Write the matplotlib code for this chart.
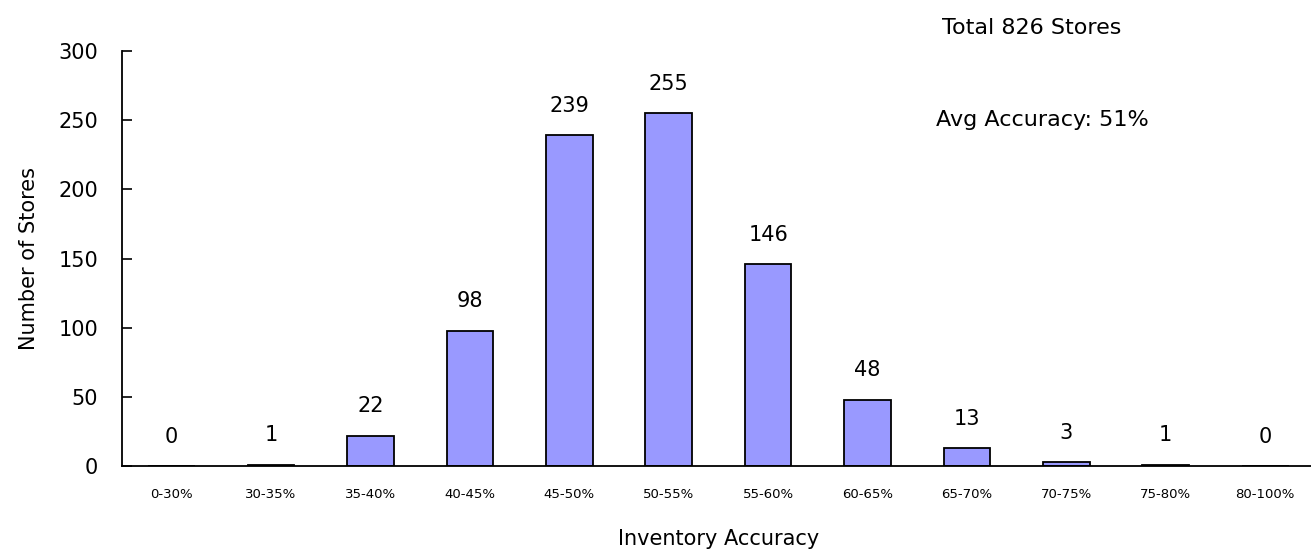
import matplotlib
matplotlib.use('Agg')
import matplotlib.pyplot as plt

plt.rcParams['font.family'] = ['DejaVu Sans']

# store counts per accuracy band
bands = ['0-30%', '30-35%', '35-40%', '40-45%', '45-50%', '50-55%',
         '55-60%', '60-65%', '65-70%', '70-75%', '75-80%', '80-100%']
stores = [0, 1, 22, 98, 239, 255, 146, 48, 13, 3, 1, 0]

fig = plt.figure(figsize=(13.11, 5.53), dpi=100)
ax = fig.add_axes([0.093, 0.157, 0.91, 0.751])

x = range(len(bands))
ax.bar(x, stores, width=0.47, color='#9999FF', edgecolor='black', linewidth=1.3)

for i, v in zip(x, stores):
    ax.annotate(str(v), (i, v), xytext=(0, 14), textcoords='offset points',
                ha='center', va='bottom', fontsize=15)

ax.set_xlim(-0.5, len(bands) - 0.5)
ax.set_ylim(0, 300)
ax.set_yticks(range(0, 301, 50))
ax.tick_params(axis='y', direction='in', length=7, width=1.2, labelsize=15, pad=17)
ax.set_xticks(list(x))
ax.set_xticklabels(bands, fontsize=9.5)
ax.tick_params(axis='x', length=0, pad=16)

ax.spines['top'].set_visible(False)
ax.spines['right'].set_visible(False)
ax.spines['left'].set_linewidth(1.3)
ax.spines['bottom'].set_linewidth(1.3)

ax.set_ylabel('Number of Stores', fontsize=15, labelpad=14)
ax.set_xlabel('Inventory Accuracy', fontsize=15, labelpad=20)

fig.text(0.787, 0.95, 'Total 826 Stores', ha='center', va='center', fontsize=16)
fig.text(0.795, 0.783, 'Avg Accuracy: 51%', ha='center', va='center', fontsize=16)

fig.savefig('out.png', dpi=100)
